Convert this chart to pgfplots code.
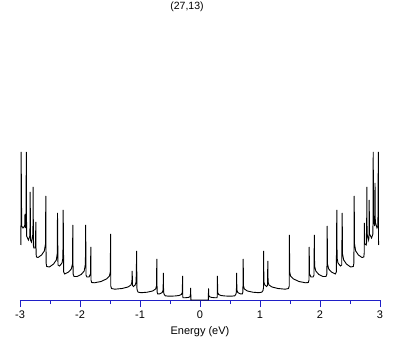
\documentclass[border=0pt]{standalone}
\usepackage{fontspec}
\setmainfont{Liberation Sans}
\usepackage{pgfplots}
\pgfplotsset{compat=1.18}
\usetikzlibrary{calc}
\definecolor{axblue}{rgb}{0.12,0.12,0.78}

\begin{document}
\begin{tikzpicture}
\begin{axis}[name=ax, scale only axis, width=360pt, height=293pt,
  xmin=-3, xmax=3, ymin=0, ymax=293,
  axis x line=bottom, axis y line=none,
  x axis line style={-, axblue, line width=0.8pt},
  xtick={-3,...,3}, xticklabels={-3,-2,-1,0,1,2,3},
  minor xtick={-2.5,-1.5,...,2.5},
  tick align=outside,
  major tick length=7pt, minor tick length=4pt,
  tick style={axblue, line width=0.8pt},
  tick label style={font=\fontsize{11}{13}\selectfont, black},
  xlabel={Energy (eV)}, xlabel style={font=\fontsize{11}{13}\selectfont, yshift=-1pt},
  clip=false]
\node[font=\fontsize{10.5}{12}\selectfont, anchor=center] at (rel axis cs:0.464,1) {(27,13)};
\addplot[black, line width=0.9pt, no marks] table {
x y
-2.985 55
-2.981 148
-2.972 74
-2.95 72
-2.922 74
-2.917 86
-2.91 72
-2.9 78
-2.895 148
-2.89 64
-2.86 60
-2.835 64
-2.83 108
-2.825 60
-2.81 58
-2.785 66
-2.78 113
-2.777 55
-2.77 52
-2.745 52
-2.735 78
-2.732 46
-2.725 43
-2.7 42.5
-2.64 45
-2.595 49
-2.575 56
-2.57 104
-2.565 37
-2.555 33.5
-2.51 33
-2.44 36
-2.395 40
-2.38 46
-2.375 87
-2.367 35
-2.34 34
-2.3 37
-2.285 42
-2.28 90
-2.272 28
-2.255 26
-2.19 28
-2.145 31
-2.125 36
-2.12 75
-2.115 26
-2.1 23.5
-2.05 23.5
-1.98 25.5
-1.93 29
-1.91 36
-1.905 75
-1.9 25
-1.885 23
-1.85 23
-1.825 26
-1.82 53
-1.817 20
-1.805 17.5
-1.76 17.2
-1.65 18.5
-1.56 21
-1.51 24
-1.495 28
-1.49 66
-1.487 14
-1.475 11.5
-1.42 10.8
-1.3 11.5
-1.2 13
-1.15 15
-1.135 18
-1.13 29
-1.125 14.5
-1.11 13.5
-1.08 15
-1.065 18
-1.055 49
-1.052 12
-1.045 9.5
-1.03 7.8
-0.98 7.3
-0.88 7.8
-0.79 9
-0.74 11
-0.725 14
-0.72 41
-0.715 8
-0.705 6
-0.67 6.2
-0.63 7.5
-0.615 10
-0.61 27
-0.607 8.5
-0.60 6
-0.58 4.2
-0.52 3.8
-0.42 4
-0.35 4.5
-0.31 5.5
-0.295 7.5
-0.29 24
-0.287 3.5
-0.283 2.3
-0.24 2.3
-0.19 2.6
-0.17 3.2
-0.16 4.5
-0.155 12
-0.152 0
0.139 0
0.142 11.7
0.147 4.5
0.16 3.2
0.19 2.6
0.24 2.3
0.283 2.3
0.287 3.5
0.29 24
0.295 7.5
0.31 5.5
0.35 4.5
0.42 4.0
0.52 3.8
0.58 4.2
0.60 6
0.607 8.5
0.61 27
0.615 10
0.63 7.5
0.67 6.2
0.705 6
0.715 8
0.72 41
0.725 14
0.74 11
0.79 9
0.88 7.8
0.98 7.3
1.03 7.8
1.05 9.5
1.058 12
1.06 49
1.065 18
1.08 15
1.11 13.5
1.125 14.5
1.13 39
1.135 18
1.15 15
1.2 13
1.3 11.5
1.42 10.8
1.475 11.5
1.487 14
1.49 65
1.495 28
1.51 24
1.56 21
1.65 18.5
1.76 17.2
1.805 17.5
1.817 20
1.82 53
1.825 26
1.85 23
1.885 23
1.9 25
1.905 65
1.91 34
1.93 29
1.98 25.5
2.05 23.5
2.1 23.5
2.115 26
2.12 74
2.125 36
2.145 31
2.19 28
2.255 26
2.272 28
2.28 90
2.285 42
2.3 37
2.34 34
2.362 35
2.37 87
2.375 46
2.395 40
2.44 36
2.51 33
2.555 33.5
2.565 37
2.57 104
2.575 56
2.595 49
2.64 45
2.7 42.5
2.73 43
2.737 47
2.74 77
2.745 56
2.77 55
2.777 58
2.78 113
2.785 66
2.81 60
2.817 63
2.82 100
2.825 66
2.86 62
2.882 66
2.887 148
2.892 80
2.91 74
2.917 117
2.922 78
2.95 72
2.965 74
2.972 148
2.976 55
};
\end{axis}
\pgfresetboundingbox
\useasboundingbox ($(ax.south west)+(-20pt,-45pt)$) rectangle ($(ax.north east)+(29pt,7pt)$);
\end{tikzpicture}
\end{document}
